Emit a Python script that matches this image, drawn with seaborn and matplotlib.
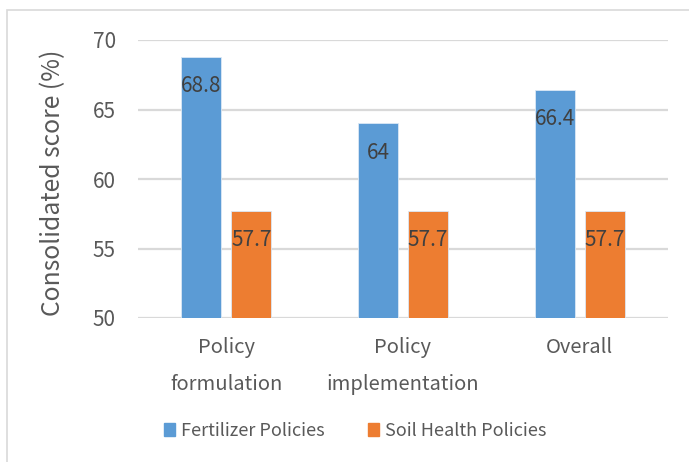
import matplotlib
matplotlib.use("Agg")
import matplotlib.pyplot as plt
import seaborn as sns
import pandas as pd
from matplotlib.patches import Rectangle

categories = ["Policy\nformulation", "Policy\nimplementation", "Overall"]
fertilizer = [68.8, 64, 66.4]
soil_health = [57.7, 57.7, 57.7]
series_names = ["Fertilizer Policies", "Soil Health Policies"]
y_ticks = [50, 55, 60, 65, 70]

df = pd.DataFrame({
    "category": categories * 2,
    "score": fertilizer + soil_health,
    "series": [series_names[0]] * 3 + [series_names[1]] * 3,
})

sns.set_theme(style="white")
plt.rcParams["font.family"] = ["Noto Sans CJK JP", "DejaVu Sans"]

fig = plt.figure(figsize=(6.89, 4.62), dpi=100)
ax = fig.add_axes([138 / 689, 1 - 318 / 462, 530 / 689, 278 / 462])

# light outer frame of the chart area
fig.patches.append(Rectangle((7 / 689, -0.1), 1.2, 1 - 10 / 462 + 0.1,
                             transform=fig.transFigure, fill=False,
                             edgecolor="#d9d9d9", linewidth=1.2, zorder=0))

palette = {series_names[0]: "#5B9BD5", series_names[1]: "#ED7D31"}
sns.barplot(data=df, x="category", y="score", hue="series", order=categories,
            hue_order=series_names, palette=palette, width=0.564, gap=0.2,
            saturation=1, edgecolor="#dbe8f5", linewidth=0.6, ax=ax, zorder=3)

ax.set_ylim(50, 70)
ax.set_xlim(-0.5, 2.5)
ax.set_yticks(y_ticks)
ax.yaxis.grid(True, color="#d9d9d9", linewidth=1.6, zorder=0)
ax.set_axisbelow(True)
for s in ax.spines.values():
    s.set_visible(False)

ax.tick_params(axis="y", length=0, pad=16, labelsize=15, labelcolor="#595959")
ax.tick_params(axis="x", length=0, pad=14, labelsize=14.5, labelcolor="#595959")
for lbl in ax.get_xticklabels():
    lbl.set_linespacing(2.0)
    lbl.set_verticalalignment("top")
ax.set_xlabel("")
ax.set_ylabel("Consolidated score (%)", fontsize=17.8, color="#595959",
              va="center")
ax.yaxis.set_label_coords(-0.1604, 0.487)

# value labels inside the top of each bar
for container in ax.containers:
    for bar in container:
        h = bar.get_height()
        ax.annotate(f"{h:g}", (bar.get_x() + bar.get_width() / 2, h),
                    xytext=(0, -21), textcoords="offset points",
                    ha="center", va="center", fontsize=15, color="#404040",
                    zorder=5)

ax.legend_.remove()
handles = [Rectangle((0, 0), 1, 1, color=palette[n]) for n in series_names]
fig.legend(handles, series_names, loc="center", bbox_to_anchor=(355 / 689, 1 - 431 / 462),
           ncol=2, frameon=False, fontsize=13, handlelength=0.6, handleheight=0.75,
           handletextpad=0.35, columnspacing=2.4, labelcolor="#595959")

fig.savefig("out.png", dpi=100, facecolor="white")
